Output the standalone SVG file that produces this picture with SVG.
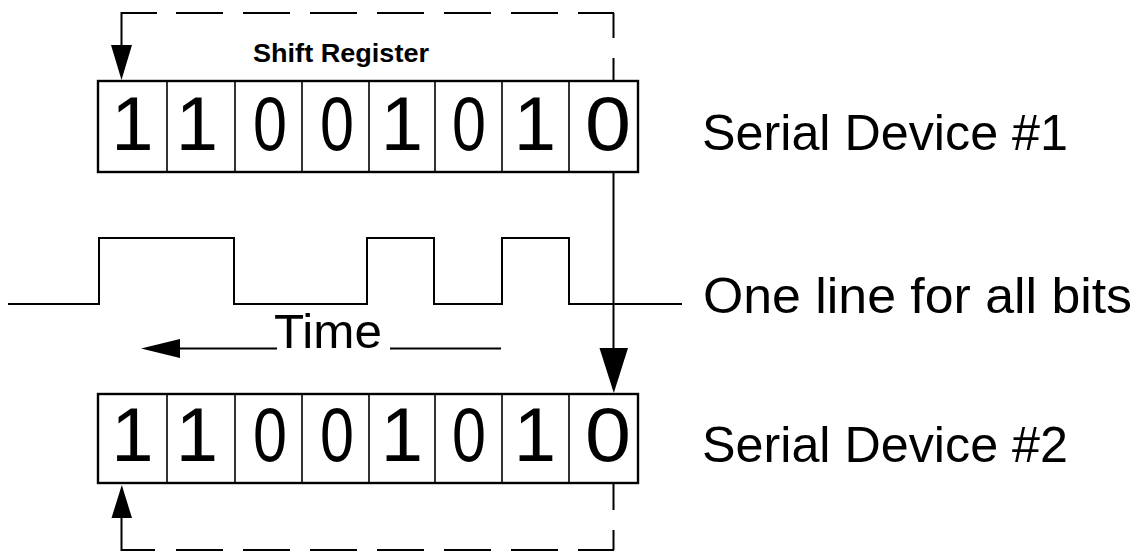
<svg xmlns="http://www.w3.org/2000/svg" width="1145" height="551" viewBox="0 0 1145 551">
  <style>
    .ln { fill: none; stroke: #000; stroke-width: 2; }
    .box { fill: #fff; stroke: #000; stroke-width: 2.4; }
    .div { stroke: #000; stroke-width: 1.6; }
    .dg { font-family: "Liberation Sans", Arial, sans-serif; font-size: 76px; fill: #000; text-anchor: middle; }
    .lbl { font-family: "Liberation Sans", Arial, sans-serif; font-size: 50px; fill: #000; }
    .ttl { font-family: "Liberation Sans", Arial, sans-serif; font-size: 26px; font-weight: bold; fill: #000; text-anchor: middle; }
    .ah { fill: #000; stroke: none; }
  </style>
  <rect width="1145" height="551" fill="#fff"/>

  <g id="connectors">
    <!-- feedback loop top (Device #1) -->
    <path class="ln" d="M157,13 H121.5 V46"/>
    <path class="ln" d="M176,13 H614" stroke-dasharray="47 20"/>
    <path class="ln" d="M613.5,13 V81" stroke-dasharray="25 20"/>
    <polygon class="ah" points="111,45 132,45 121.5,80"/>
    <!-- serial data line from device #1 to device #2 -->
    <path class="ln" d="M613.5,172 V350"/>
    <polygon class="ah" points="599.5,348 628,348 613.8,393"/>
    <!-- feedback loop bottom (Device #2) -->
    <path class="ln" d="M613.5,483 V550" stroke-dasharray="27 20"/>
    <path class="ln" d="M580,550 H614"/>
    <path class="ln" d="M176,550 H580" stroke-dasharray="47 20"/>
    <path class="ln" d="M155,550 H121.5 V517"/>
    <polygon class="ah" points="111.5,518 132,518 121.8,485"/>
  </g>

  <g id="shift-register-label">
    <text class="ttl" x="341" y="62" textLength="176" lengthAdjust="spacingAndGlyphs">Shift Register</text>
  </g>

  <g id="device1">
    <rect class="box" x="98" y="81" width="540" height="91"/>
    <path class="div" d="M167,81 V172 M235,81 V172 M302,81 V172 M369,81 V172 M435,81 V172 M502,81 V172 M569,81 V172"/>
    <text class="dg" x="132.5" y="150">1</text>
    <text class="dg" x="197" y="150">1</text>
    <text class="dg" x="270" y="150" textLength="34" lengthAdjust="spacingAndGlyphs">0</text>
    <text class="dg" x="337" y="150" textLength="34" lengthAdjust="spacingAndGlyphs">0</text>
    <text class="dg" x="402" y="150">1</text>
    <text class="dg" x="469" y="150" textLength="34" lengthAdjust="spacingAndGlyphs">0</text>
    <text class="dg" x="535" y="150">1</text>
    <text class="dg" x="608" y="150" textLength="46" lengthAdjust="spacingAndGlyphs">0</text>
  </g>

  <g id="device1-label">
    <text class="lbl" x="702" y="150" textLength="366" lengthAdjust="spacingAndGlyphs">Serial Device #1</text>
  </g>

  <g id="waveform">
    <path class="ln" d="M8,304 H99 V238 H234 V304 H367 V238 H434 V304 H502 V238 H569 V304 H682"/>
    <text class="lbl" x="703" y="313" textLength="429" lengthAdjust="spacingAndGlyphs">One line for all bits</text>
  </g>

  <g id="time-axis">
    <path class="ln" d="M176,348.5 H277"/>
    <polygon class="ah" points="141,348.5 180,339 180,358"/>
    <text class="lbl" x="274" y="348" style="font-size:48px" textLength="108" lengthAdjust="spacingAndGlyphs">Time</text>
    <path class="ln" d="M390,348.5 H501"/>
  </g>

  <g id="device2">
    <rect class="box" x="98" y="394" width="540" height="89"/>
    <path class="div" d="M167,394 V483 M235,394 V483 M302,394 V483 M369,394 V483 M435,394 V483 M502,394 V483 M569,394 V483"/>
    <text class="dg" x="132.5" y="461">1</text>
    <text class="dg" x="197" y="461">1</text>
    <text class="dg" x="270" y="461" textLength="34" lengthAdjust="spacingAndGlyphs">0</text>
    <text class="dg" x="337" y="461" textLength="34" lengthAdjust="spacingAndGlyphs">0</text>
    <text class="dg" x="402" y="461">1</text>
    <text class="dg" x="469" y="461" textLength="34" lengthAdjust="spacingAndGlyphs">0</text>
    <text class="dg" x="535" y="461">1</text>
    <text class="dg" x="608" y="461" textLength="46" lengthAdjust="spacingAndGlyphs">0</text>
  </g>

  <g id="device2-label">
    <text class="lbl" x="702" y="462" textLength="366" lengthAdjust="spacingAndGlyphs">Serial Device #2</text>
  </g>
</svg>
